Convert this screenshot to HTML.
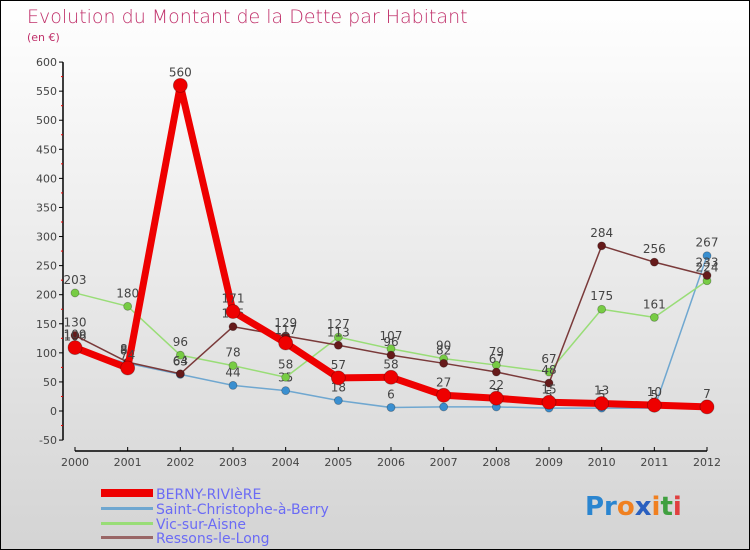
<!DOCTYPE html>
<html><head><meta charset="utf-8"><style>
body{margin:0;}
#c{width:750px;height:550px;position:relative;overflow:hidden;box-sizing:border-box;border:1px solid #000;background:linear-gradient(#fff,#d4d4d4);font-family:"DejaVu Sans","Liberation Sans",sans-serif;}
svg text{font-family:"DejaVu Sans","Liberation Sans",sans-serif;}
</style></head><body>
<div id="c">
<svg id="s" width="750" height="550">
<text x="26" y="22" font-size="19" fill="#c0306a" style="font-weight:200">Evolution du Montant de la Dette par Habitant</text>
<text x="26" y="40" font-size="11" fill="#c0306a">(en €)</text>
<g id="axes"></g><g id="series"></g>
<g>
<rect x="100" y="488" width="52" height="8" fill="#e00"/>
<text x="155" y="498" font-size="14" fill="#6b6bf5">BERNY-RIVIèRE</text>
<rect x="100" y="506" width="52" height="3" fill="#6fa7d0"/>
<text x="155" y="513" font-size="14" fill="#6b6bf5">Saint-Christophe-à-Berry</text>
<rect x="100" y="521" width="52" height="3" fill="#99dd77"/>
<text x="155" y="528" font-size="14" fill="#6b6bf5">Vic-sur-Aisne</text>
<rect x="100" y="535" width="52" height="3" fill="#996666"/>
<text x="155" y="542" font-size="14" fill="#6b6bf5">Ressons-le-Long</text>
</g>
<text x="584" y="514" font-size="26" font-weight="bold"><tspan fill="#2a85d0">Pr</tspan><tspan fill="#f08020">o</tspan><tspan fill="#2a60c0">x</tspan><tspan fill="#f08020">i</tspan><tspan fill="#40a040">t</tspan><tspan fill="#e04040">i</tspan></text>
</svg></div>
<script>
const years=[2000,2001,2002,2003,2004,2005,2006,2007,2008,2009,2010,2011,2012];
const berny=[109,74,560,171,117,57,58,27,22,15,13,10,7];
const stchris=[106,82,63,44,35,18,6,7,7,5,5,5,267];
const vic=[203,180,96,78,58,127,107,90,79,67,175,161,224];
const ressons=[130,84,64,145,129,113,96,82,67,48,284,256,233];
const yTicks=[-50,0,50,100,150,200,250,300,350,400,450,500,550,600];
const NS="http://www.w3.org/2000/svg";
function X(i){return 74+i*(706-74)/(years.length-1);}
function Y(v){return 410-v*(439-61)/650;}
function mk(t,a,p){const e=document.createElementNS(NS,t);for(const k in a)e.setAttribute(k,a[k]);p.appendChild(e);return e;}
const ax=document.getElementById('axes');
const ya=mk('line',{x1:62,y1:Y(600),x2:62,y2:Y(-50),stroke:'#000','stroke-width':1.5},ax);


yTicks.forEach(v=>{
 const l=mk('line',{x1:58,x2:62,y1:Y(v),y2:Y(v),stroke:'#000'},ax);
 
 
 if(v<600){const m=mk('line',{x1:60,x2:62,y1:Y(v+25),y2:Y(v+25),stroke:'#e00'},ax);
 
 }
 const t=mk('text',{x:56,y:Y(v)+4,'font-size':11,fill:'#444','text-anchor':'end'},ax);t.textContent=v;
 
 
});
const xa=mk('line',{x1:X(0),x2:X(12),y1:450,y2:450,stroke:'#000','stroke-width':1.5},ax);


years.forEach((y,i)=>{
 const l=mk('line',{x1:X(i),x2:X(i),y1:446,y2:450,stroke:'#000'},ax);
 
 
 const t=mk('text',{x:X(i),y:465,'font-size':11,fill:'#444','text-anchor':'middle'},ax);t.textContent=y;
 
 
});
const sg=document.getElementById('series');
function draw(name,data,color,w,r,dot){
 const g=mk('g',{},sg);
 
 
 const p=mk('polyline',{points:data.map((v,i)=>X(i)+','+Y(v)).join(' '),fill:'none',stroke:color,'stroke-width':w,'stroke-linejoin':'round'},g);
 
 
 data.forEach((v,i)=>{
  const c=mk('circle',{cx:X(i),cy:Y(v),r:r,fill:dot,stroke:'rgba(0,0,0,0.3)','stroke-width':0.8},g);
  
  
  const t=mk('text',{x:X(i),y:Y(v)-9,'font-size':12,fill:'#444','text-anchor':'middle'},g);t.textContent=v;
  
  
 });
}
draw('saint-christophe',stchris,'#6fa7d0',1.5,4,'#3a8fd0');
draw('vic',vic,'#99dd77',1.5,4,'#77cc44');
draw('ressons',ressons,'#7a3a3a',1.5,4,'#661a1a');
draw('berny',berny,'#ee0000',7,7,'#ee0000');
</script>
</body></html>
